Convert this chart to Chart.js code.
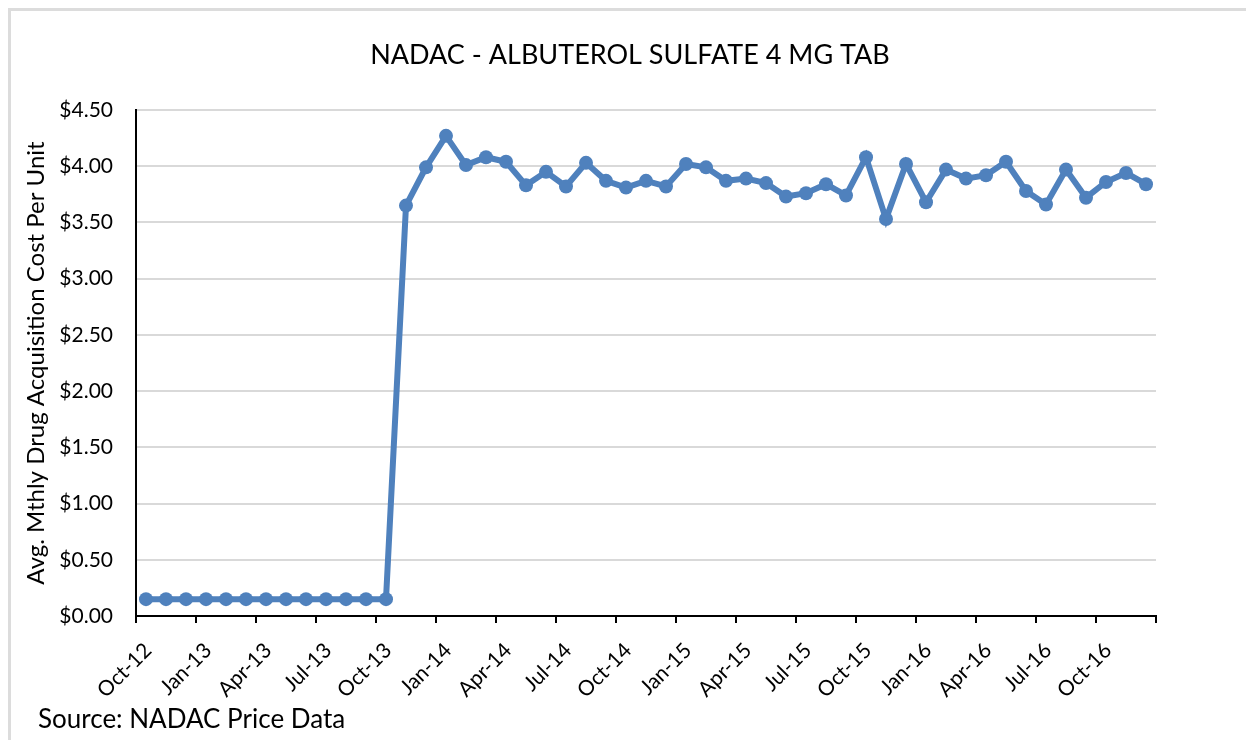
<!DOCTYPE html>
<html>
<head>
  <title>NADAC - Albuterol Sulfate 4 MG Tab</title>
  <script src="https://cdn.jsdelivr.net/npm/chart.js"></script>
  <style>
    body { margin: 0; background: #fff; }
    #wrap { position: relative; width: 1246px; height: 740px; overflow: hidden; }
    #frame {
      position: absolute; left: 8px; top: 8px; width: 1300px; height: 800px;
      border-left: 3px solid #dcdcdc; border-top: 3px solid #dcdcdc;
    }
    #priceChart { position: absolute; left: 0; top: 0; }
  </style>
</head>
<body>
  <div id="wrap">
    <div id="frame"></div>
    <canvas id="priceChart" width="1246" height="740"></canvas>
  </div>

  <script>
    // one label per month, Oct-12 .. Dec-16
    const months = [
      'Oct-12', 'Nov-12', 'Dec-12',
      'Jan-13', 'Feb-13', 'Mar-13', 'Apr-13', 'May-13', 'Jun-13',
      'Jul-13', 'Aug-13', 'Sep-13', 'Oct-13', 'Nov-13', 'Dec-13',
      'Jan-14', 'Feb-14', 'Mar-14', 'Apr-14', 'May-14', 'Jun-14',
      'Jul-14', 'Aug-14', 'Sep-14', 'Oct-14', 'Nov-14', 'Dec-14',
      'Jan-15', 'Feb-15', 'Mar-15', 'Apr-15', 'May-15', 'Jun-15',
      'Jul-15', 'Aug-15', 'Sep-15', 'Oct-15', 'Nov-15', 'Dec-15',
      'Jan-16', 'Feb-16', 'Mar-16', 'Apr-16', 'May-16', 'Jun-16',
      'Jul-16', 'Aug-16', 'Sep-16', 'Oct-16', 'Nov-16', 'Dec-16'
    ];

    // avg monthly cost per unit ($)
    const costs = [
      0.15, 0.15, 0.15,
      0.15, 0.15, 0.15, 0.15, 0.15, 0.15,
      0.15, 0.15, 0.15, 0.15, 3.65, 3.99,
      4.27, 4.01, 4.08, 4.04, 3.83, 3.95,
      3.82, 4.03, 3.87, 3.81, 3.87, 3.82,
      4.02, 3.99, 3.87, 3.89, 3.85, 3.73,
      3.76, 3.84, 3.74, 4.08, 3.53, 4.02,
      3.68, 3.97, 3.89, 3.92, 4.04, 3.78,
      3.66, 3.97, 3.72, 3.86, 3.94, 3.84
    ];

    const chartTitle = 'NADAC - ALBUTEROL SULFATE 4 MG TAB';
    const yAxisTitle = 'Avg. Mthly Drug Acquisition Cost Per Unit';
    const sourceNote = 'Source: NADAC Price Data';

    const FONT = 'Lato, "Open Sans", sans-serif';

    // Excel-style date axis: points sit mid-month, ticks on month starts
    const points = costs.map((v, i) => ({ x: i + 0.5, y: v }));

    // title and source line are placed on the canvas, not over the plot area
    const textPlugin = {
      id: 'extraText',
      afterDraw(chart) {
        const ctx = chart.ctx;
        ctx.save();
        ctx.fillStyle = '#000';
        ctx.textBaseline = 'middle';
        ctx.textAlign = 'center';
        ctx.font = '27px ' + FONT;
        ctx.fillText(chartTitle, 630, 55);
        ctx.textAlign = 'left';
        ctx.font = '26px ' + FONT;
        ctx.fillText(sourceNote, 38, 720);
        ctx.restore();
      }
    };

    const ctx = document.getElementById('priceChart').getContext('2d');
    new Chart(ctx, {
      type: 'line',
      data: {
        datasets: [{
          label: 'NADAC',
          data: points,
          borderColor: '#4F81BD',
          backgroundColor: '#4F81BD',
          borderWidth: 6,
          pointRadius: 7,
          pointBorderWidth: 0,
          pointBackgroundColor: '#4F81BD',
          tension: 0,
          fill: false
        }]
      },
      plugins: [textPlugin],
      options: {
        responsive: false,
        animation: false,
        layout: { padding: { left: 22, right: 90, top: 110, bottom: 0 } },
        plugins: {
          legend: { display: false },
          tooltip: { enabled: false },
          title: { display: false }
        },
        scales: {
          x: {
            type: 'linear',
            min: 0,
            max: months.length,
            afterFit(scale) { scale.height = 124; },
            border: { color: '#000', width: 2 },
            grid: {
              drawOnChartArea: false,
              drawTicks: true,
              tickLength: 7,
              tickColor: '#000',
              lineWidth: 2
            },
            ticks: {
              stepSize: 3,
              autoSkip: false,
              minRotation: 45,
              maxRotation: 45,
              color: '#000',
              font: { family: FONT, size: 21 },
              padding: 15,
              labelOffset: 12,
              callback: (v) => (v < months.length ? months[v] : '')
            }
          },
          y: {
            min: 0,
            max: 4.5,
            afterFit(scale) { scale.width = 114; },
            border: { color: '#000', width: 2 },
            grid: { color: '#d9d9d9', lineWidth: 2, drawTicks: false },
            ticks: {
              stepSize: 0.5,
              color: '#000',
              padding: 23,
              font: { family: FONT, size: 21 },
              callback: (v) => '$' + v.toFixed(2)
            },
            title: {
              display: true,
              text: yAxisTitle,
              color: '#000',
              font: { family: FONT, size: 24 },
              padding: { top: 0, bottom: 0 }
            }
          }
        }
      }
    });
  </script>
</body>
</html>
